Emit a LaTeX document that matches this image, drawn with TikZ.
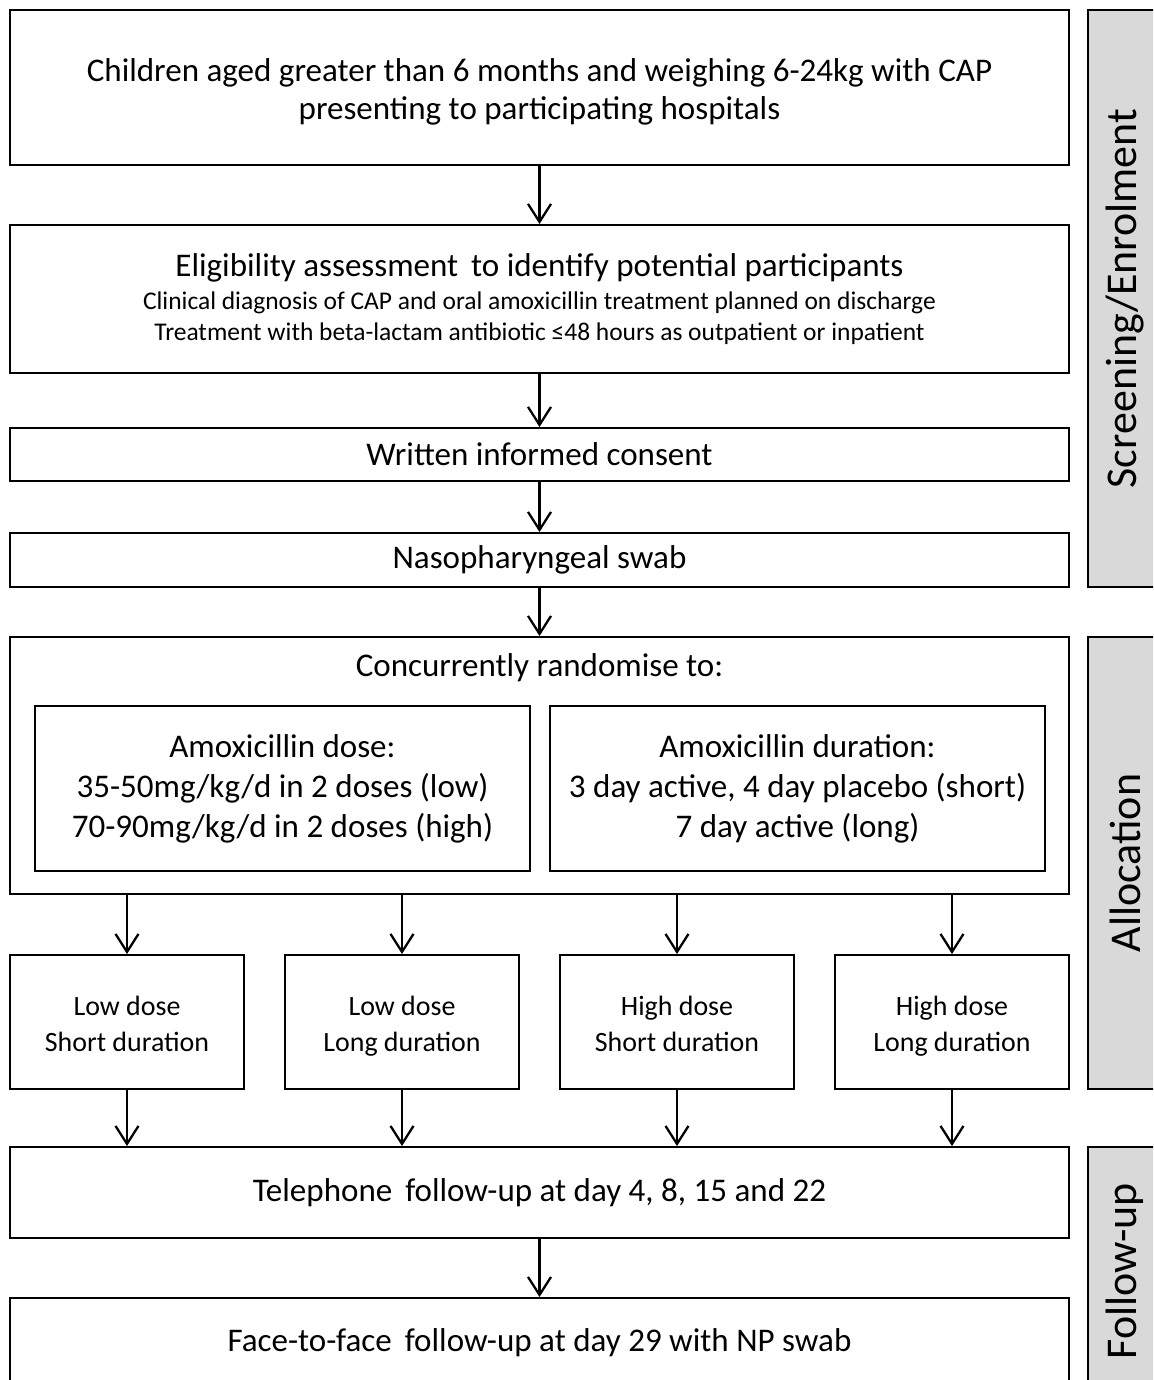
\documentclass[tikz,border=0pt]{standalone}
\usepackage{fontspec}
\setmainfont{Carlito}
\usetikzlibrary{arrows.meta}

\begin{document}
\begin{tikzpicture}[
          box/.style={draw, line width=1.1pt, align=center, inner sep=0pt,
            minimum width=21.18cm, font=\fontsize{18.8}{21.6}\selectfont},
          dosebox/.style={draw, line width=1.1pt, align=center, inner sep=0pt,
            minimum width=9.9cm, minimum height=3.3cm, font=\fontsize{18.8}{22.7}\selectfont},
          arm/.style={draw, line width=1.1pt, align=center, inner sep=0pt,
            minimum width=4.68cm, minimum height=2.68cm, text height=1.3cm, text depth=0.12cm,
            font=\fontsize{15.9}{20.5}\selectfont},
          phase/.style={draw, line width=1.1pt, fill=black!15, rotate=90, inner sep=0pt,
            minimum height=1.48cm, font=\fontsize{25}{28}\selectfont},
          flow/.style={line width=1.3pt, -{Straight Barb[length=0.36cm,width=0.46cm]}}]
  \newcommand\smalltxt{\fontsize{14.5}{17.6}\selectfont}
  \useasboundingbox (0,0) rectangle (23.06,-27.6);
  \clip (0,0) rectangle (23.06,-27.6);

  \node[box, minimum height=3.1cm, text height=1.44cm, text depth=0.16cm] (pop) at (10.79,-1.75)
    {Children aged greater than 6 months and weighing 6-24kg with CAP\\presenting to participating hospitals};
  \node[box, minimum height=2.96cm] (elig) at (10.79,-5.98)
    {Eligibility assessment\, to identify potential participants\\[-2.9pt]
     \smalltxt Clinical diagnosis of CAP and oral amoxicillin treatment planned on discharge\\[-4.3pt]
     \smalltxt Treatment with beta-lactam antibiotic ≤48 hours as outpatient or inpatient};
  \node[box, minimum height=1.06cm] (consent) at (10.79,-9.09) {Written informed consent};
  \node[box, minimum height=1.08cm] (swab) at (10.79,-11.2) {Nasopharyngeal swab};

  \node[box, minimum height=5.14cm] (rand) at (10.79,-15.31) {};
  \node[font=\fontsize{18.8}{21.6}\selectfont] (randtxt) at (10.79,-13.36) {Concurrently randomise to:};
  \node[dosebox] (dose) at (5.65,-15.77)
    {Amoxicillin dose:\\35-50mg/kg/d in 2 doses (low)\\70-90mg/kg/d in 2 doses (high)};
  \node[dosebox] (dur) at (15.95,-15.77)
    {Amoxicillin duration:\\3 day active, 4 day placebo (short)\\7 day active (long)};

  \node[arm] (lsd) at (2.54,-20.44) {Low dose\\Short duration};
  \node[arm] (lld) at (8.04,-20.44) {Low dose\\Long duration};
  \node[arm] (hsd) at (13.54,-20.44) {High dose\\Short duration};
  \node[arm] (hld) at (19.04,-20.44) {High dose\\Long duration};

  \node[box, minimum height=1.82cm] (phone) at (10.79,-23.85)
    {Telephone\, follow-up at day 4, 8, 15 and 22};
  \node[box, minimum height=1.8cm] (visit) at (10.79,-26.86)
    {Face-to-face\, follow-up at day 29 with NP swab};

  \node[phase, minimum width=11.54cm] (screen) at (22.5,-5.97) {Screening/Enrolment};
  \node[phase, minimum width=9.04cm] (alloc) at (22.5,-17.26) {Allocation};
  \node[phase, minimum width=4.96cm] (follow) at (22.5,-25.42) {Follow-up};

  \draw[flow] (pop) -- (elig);
  \draw[flow] (elig) -- (consent);
  \draw[flow] (consent) -- (swab);
  \draw[flow] (swab) -- (rand);
  \foreach \a in {lsd,lld,hsd,hld} {
    \draw[flow] (rand.south -| \a.north) -- (\a.north);
    \draw[flow] (\a.south) -- (\a.south |- phone.north);
  }
  \draw[flow] (phone) -- (visit);
\end{tikzpicture}
\end{document}
